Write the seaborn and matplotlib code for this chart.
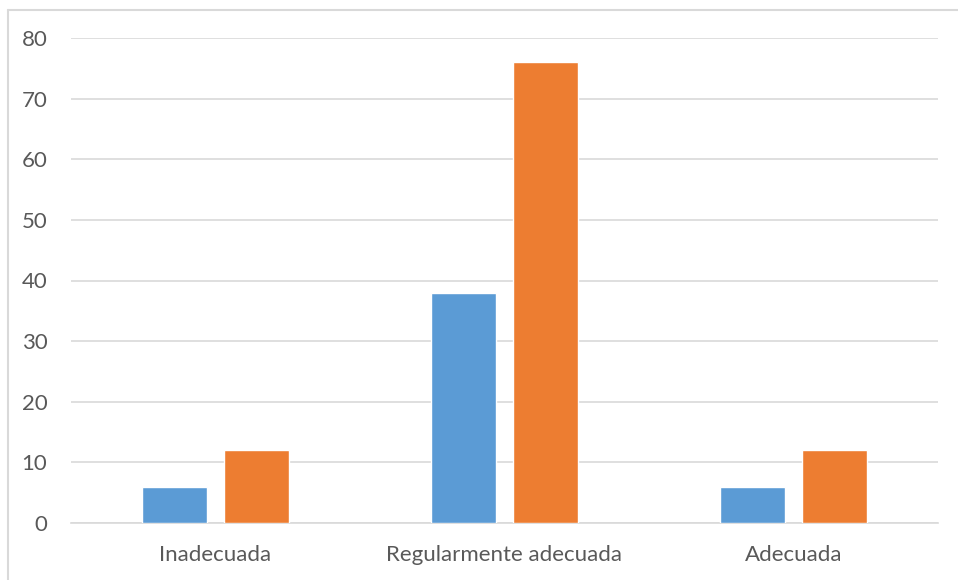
import matplotlib
matplotlib.use("Agg")
import matplotlib.pyplot as plt
import seaborn as sns
import pandas as pd
from matplotlib.lines import Line2D

categories = ["Inadecuada", "Regularmente adecuada", "Adecuada"]
serie1 = [6, 38, 6]
serie2 = [12, 76, 12]
series_names = ["Serie 1", "Serie 2"]
yticks = [0, 10, 20, 30, 40, 50, 60, 70, 80]

df = pd.DataFrame({
    "Categoría": categories * 2,
    "Valor": serie1 + serie2,
    "Serie": [series_names[0]] * 3 + [series_names[1]] * 3,
})

sns.set_theme(style="white")
plt.rcParams["font.family"] = ["Lato", "DejaVu Sans"]

fig = plt.figure(figsize=(9.58, 5.8), dpi=100)
ax = fig.add_axes([71 / 958, 1 - 523 / 580, (938 - 71) / 958, (523 - 38) / 580])

sns.barplot(data=df, x="Categoría", y="Valor", hue="Serie",
            palette=["#5B9BD5", "#ED7D31"], width=0.5675, gap=0.219,
            saturation=1, ax=ax, legend=False, errorbar=None, zorder=3)

ax.set_ylim(0, 80)
ax.set_yticks(yticks)
ax.set_xlim(-0.5, 2.5)
ax.set_xlabel("")
ax.set_ylabel("")
ax.grid(axis="y", color="#D9D9D9", linewidth=1.2, zorder=0)
ax.set_axisbelow(True)
for s in ["top", "right", "left"]:
    ax.spines[s].set_visible(False)
ax.spines["bottom"].set_color("#D9D9D9")
ax.spines["bottom"].set_linewidth(1.2)
ax.tick_params(axis="both", length=0, labelsize=16, colors="#595959")
ax.tick_params(axis="y", pad=17)
ax.tick_params(axis="x", pad=16)

# chart border (left and top visible)
fig.add_artist(Line2D([7.5 / 958, 7.5 / 958], [0, 1 - 10 / 580], transform=fig.transFigure,
                      color="#D9D9D9", linewidth=1.5))
fig.add_artist(Line2D([7.5 / 958, 1], [1 - 10 / 580, 1 - 10 / 580], transform=fig.transFigure,
                      color="#D9D9D9", linewidth=1.5))

fig.savefig("out.png", dpi=100)
